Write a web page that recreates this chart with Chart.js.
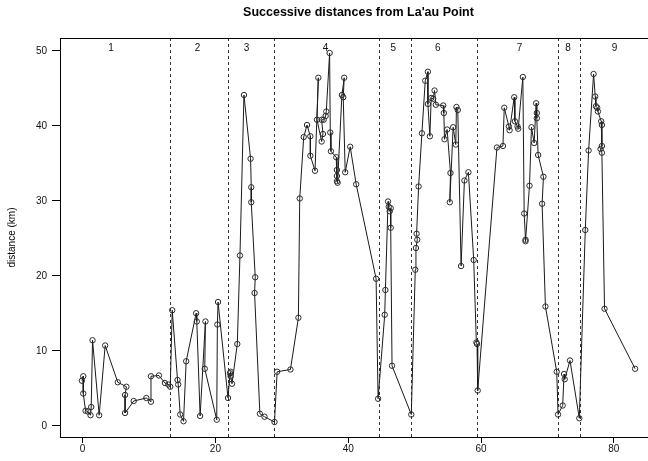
<!DOCTYPE html>
<html>
<head>
<meta charset="utf-8">
<script src="https://cdn.jsdelivr.net/npm/chart.js@4/dist/chart.umd.min.js"></script>
<style>
  html, body { margin: 0; padding: 0; background: #fff; overflow: hidden; }
  #wrap { width: 648px; height: 461px; overflow: hidden; position: relative; }
  canvas { display: block; }
</style>
</head>
<body>
<div id="wrap"><canvas id="chart" width="662" height="461"></canvas></div>
<script>
// Observation time (days) and distance from La'au Point (km), in order of observation
const days = [
  -0.1, 0.1, 0.1, 0.45, 0.8, 1.2, 1.3, 1.5, 2.5, 3.4, 5.3, 6.6, 6.4, 6.4, 7.7, 9.6, 10.3, 10.3, 11.5, 12.4, 12.9, 13.2,
  13.5, 14.3, 14.4, 14.7, 15.2, 15.6, 17.1, 17.2, 17.7, 18.5, 18.4, 20.2, 20.3, 20.4, 21.9,
  22.2, 22.3, 22.3, 22.5, 23.3, 23.7, 24.3, 25.3, 25.4, 25.4, 26.0, 25.9, 26.7, 27.4, 28.9,
  29.3, 31.3, 32.5, 32.7, 33.3, 33.8, 34.3, 34.3, 35.0, 35.5, 35.3, 36.0, 36.2, 36.0, 36.3, 36.6, 36.7,
  37.2, 37.3, 37.4, 38.2, 38.3, 38.3, 38.3, 38.4, 39.05, 39.4, 39.25, 39.55, 40.3, 41.2, 44.2, 44.5,
  45.5, 45.6, 46.0, 46.1, 46.25, 46.4, 46.4, 46.6, 49.5,
  50.1, 50.2, 50.4, 50.3, 50.6, 51.1, 51.6, 52.0, 52.0, 52.3, 52.5, 52.8, 53.0, 53.2, 54.3, 54.4, 54.5,
  54.9, 55.4, 55.3, 55.8, 56.2, 56.3, 56.5, 57.0, 57.5, 58.1, 58.9, 59.3, 59.4, 59.5,
  62.4, 63.3, 63.5, 64.2, 64.3, 65.0, 65.1, 65.5, 65.6, 66.3, 66.5, 66.7, 66.7, 67.3, 67.6, 68.0,
  68.3, 68.4, 68.4, 68.6, 69.4, 69.2, 69.7, 71.4,
  71.6, 72.3, 72.5, 72.6, 73.4, 74.8,
  75.7, 76.2, 76.95, 77.2, 77.3, 77.5, 77.6, 78.1, 78.2, 78.2, 78.0, 78.2, 78.6, 83.2
];
const distances = [
  6.0, 6.6, 4.3, 2.0, 1.9, 1.4, 2.5, 11.4, 1.4, 10.7, 5.8, 5.2, 4.1, 1.7, 3.3, 3.7, 3.2, 6.6, 6.7, 5.7, 5.5, 5.2,
  15.4, 6.1, 5.5, 1.5, 0.6, 8.6, 15.0, 13.9, 1.3, 13.9, 7.6, 0.8, 13.5, 16.5, 3.7,
  7.0, 7.2, 6.6, 5.6, 10.9, 22.7, 44.1, 35.6, 31.8, 29.8, 19.8, 17.7, 1.6, 1.2, 0.5,
  7.2, 7.5, 14.4, 30.3, 38.5, 40.1, 38.6, 36.0, 34.0, 46.4, 40.8, 37.9, 38.9, 40.8, 40.8, 41.3, 41.9,
  49.7, 39.1, 36.6, 35.8, 34.1, 33.3, 32.6, 32.4, 44.1, 46.4, 43.8, 33.8, 37.2, 32.2, 19.6, 3.6,
  14.8, 18.1, 29.9, 29.2, 28.6, 29.0, 26.4, 8.0, 1.5,
  20.8, 23.7, 24.8, 25.6, 31.9, 39.0, 46.0, 47.2, 42.9, 38.6, 43.7, 43.6, 44.7, 42.8, 42.7, 41.7, 38.2,
  39.5, 33.7, 29.8, 39.8, 37.5, 42.5, 42.1, 21.3, 32.7, 33.8, 22.1, 11.1, 10.9, 4.7,
  37.1, 37.3, 42.4, 39.9, 39.4, 43.8, 40.6, 39.9, 39.6, 46.5, 28.3, 24.8, 24.6, 32.0, 39.8, 37.7,
  43.0, 41.7, 41.0, 36.1, 33.2, 29.6, 15.9, 7.2,
  1.5, 2.7, 6.9, 6.2, 8.7, 1.0,
  26.1, 36.7, 46.9, 43.9, 42.6, 42.4, 41.9, 40.6, 40.1, 37.3, 36.9, 36.4, 15.6, 7.6
];

// Day boundaries between numbered excursions and where each number is written
const segmentBreaks = [13.2, 21.95, 28.9, 44.6, 49.5, 59.45, 71.55, 74.95];
const segmentNames = ['1', '2', '3', '4', '5', '6', '7', '8', '9'];
const segmentNameDays = [4.3, 17.3, 24.7, 36.6, 46.8, 53.5, 65.8, 73.1, 80.1];
const segmentNameLevel = 50.3;

const xTicks = [0, 20, 40, 60, 80];
const yTicks = [0, 10, 20, 30, 40, 50];

const FONT = "'Liberation Sans', Arial, Helvetica, sans-serif";

const points = days.map((d, i) => ({ x: d, y: distances[i] }));

// Dashed separators, frame, segment numbers, title and axis title
const framePlugin = {
  id: 'frame',
  beforeDatasetsDraw(chart) {
    const { ctx, chartArea: a, scales: { x } } = chart;
    ctx.save();
    ctx.strokeStyle = '#333';
    ctx.lineWidth = 1;
    ctx.setLineDash([3, 3]);
    segmentBreaks.forEach(b => {
      const px = Math.round(x.getPixelForValue(b)) + 0.5;
      ctx.beginPath();
      ctx.moveTo(px, a.top);
      ctx.lineTo(px, a.bottom);
      ctx.stroke();
    });
    ctx.restore();
  },
  afterDatasetsDraw(chart) {
    const { ctx, chartArea: a, scales: { x, y } } = chart;
    ctx.save();
    ctx.strokeStyle = '#000';
    ctx.lineWidth = 1;
    ctx.strokeRect(Math.round(a.left) + 0.5, Math.round(a.top) + 0.5,
                   Math.round(a.right - a.left), Math.round(a.bottom - a.top));

    ctx.fillStyle = '#111';
    ctx.font = '10px ' + FONT;
    ctx.textAlign = 'center';
    ctx.textBaseline = 'middle';
    segmentNames.forEach((n, i) => {
      ctx.fillText(n, x.getPixelForValue(segmentNameDays[i]), y.getPixelForValue(segmentNameLevel));
    });

    ctx.fillStyle = '#000';
    ctx.font = 'bold 12.5px ' + FONT;
    ctx.fillText("Successive distances from La'au Point", (a.left + a.right) / 2, 13);

    ctx.font = '10px ' + FONT;
    ctx.translate(12, (a.top + a.bottom) / 2);
    ctx.rotate(-Math.PI / 2);
    ctx.fillText('distance (km)', 0, 0);
    ctx.restore();
  }
};

new Chart(document.getElementById('chart'), {
  type: 'scatter',
  data: {
    datasets: [{
      data: points,
      showLine: true,
      borderColor: '#1a1a1a',
      borderWidth: 1,
      pointRadius: 2.7,
      pointBorderWidth: 1,
      pointBorderColor: '#2a2a2a',
      pointBackgroundColor: 'rgba(0,0,0,0)',
      tension: 0
    }]
  },
  options: {
    responsive: false,
    animation: false,
    devicePixelRatio: 1,
    layout: { padding: { top: 38, left: 0, right: 2, bottom: 0 } },
    plugins: { legend: { display: false }, tooltip: { enabled: false }, title: { display: false } },
    scales: {
      x: {
        type: 'linear',
        min: -3.4,
        max: 86.5,
        afterBuildTicks: s => { s.ticks = xTicks.map(v => ({ value: v })); },
        afterFit: s => { s.height = 24; },
        grid: { drawOnChartArea: false, drawTicks: true, tickLength: 6, color: '#000' },
        border: { display: false },
        ticks: { color: '#111', font: { family: FONT, size: 10 }, padding: 0, maxRotation: 0, autoSkip: false }
      },
      y: {
        type: 'linear',
        min: -1.5,
        max: 51.7,
        afterBuildTicks: s => { s.ticks = yTicks.map(v => ({ value: v })); },
        afterFit: s => { s.width = 60; },
        grid: { drawOnChartArea: false, drawTicks: true, tickLength: 8, color: '#000' },
        border: { display: false },
        ticks: { color: '#111', font: { family: FONT, size: 10 }, padding: 5, autoSkip: false }
      }
    }
  },
  plugins: [framePlugin]
});
</script>
</body>
</html>
